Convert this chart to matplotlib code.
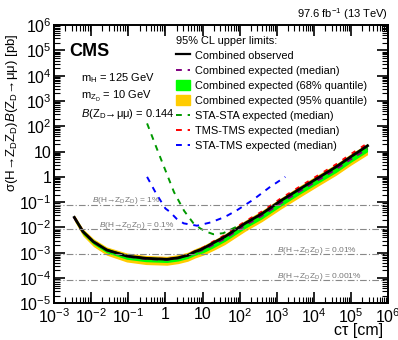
import numpy as np
import matplotlib
matplotlib.use('Agg')
import matplotlib.pyplot as plt
from matplotlib.lines import Line2D
from matplotlib.patches import Patch
from matplotlib.ticker import LogLocator, FuncFormatter, NullFormatter

plt.rcParams['font.family'] = ['Liberation Sans', 'DejaVu Sans']
plt.rcParams['mathtext.fontset'] = 'custom'
plt.rcParams['mathtext.rm'] = 'Liberation Sans'
plt.rcParams['mathtext.it'] = 'Liberation Sans:italic'
plt.rcParams['mathtext.bf'] = 'Liberation Sans:bold'

# combined limits vs c*tau [cm]
ctau = [0.0035, 0.006, 0.0115, 0.026, 0.09, 0.3, 1.1, 2.2, 4.0, 6.3, 10.5, 20, 40,
        140, 400, 1260, 4000, 12600, 40000, 100000, 280000]
obs = [0.025, 6.8e-3, 2.7e-3, 1.29e-3, 7.4e-4, 6.0e-4, 5.5e-4, 6.3e-4, 7.9e-4, 1.1e-3,
       1.48e-3, 2.5e-3, 4.3e-3, 1.45e-2, 3.5e-2, 0.112, 0.32, 0.89, 2.5, 6.3, 17]
exp_med = [0.024, 6.6e-3, 2.65e-3, 1.25e-3, 7.0e-4, 5.6e-4, 5.2e-4, 6.0e-4, 7.5e-4, 1.0e-3,
           1.3e-3, 2.1e-3, 3.6e-3, 1.2e-2, 2.9e-2, 9.0e-2, 0.26, 0.72, 2.0, 5.0, 13]
exp68_lo = [0.020, 5.4e-3, 2.15e-3, 1.0e-3, 5.5e-4, 4.4e-4, 4.1e-4, 4.7e-4, 5.9e-4, 7.9e-4,
            1.0e-3, 1.6e-3, 2.8e-3, 9.2e-3, 2.2e-2, 6.8e-2, 0.20, 0.55, 1.5, 3.8, 9.9]
exp68_hi = [0.028, 7.9e-3, 3.2e-3, 1.5e-3, 8.4e-4, 6.8e-4, 6.3e-4, 7.3e-4, 9.1e-4, 1.25e-3,
            1.65e-3, 2.7e-3, 4.6e-3, 1.55e-2, 3.8e-2, 0.117, 0.34, 0.94, 2.6, 6.5, 17]
exp95_lo = [0.018, 4.6e-3, 1.75e-3, 8.0e-4, 4.3e-4, 3.4e-4, 3.2e-4, 3.7e-4, 4.6e-4, 6.2e-4,
            8.0e-4, 1.25e-3, 2.1e-3, 7.0e-3, 1.7e-2, 5.2e-2, 0.15, 0.42, 1.16, 2.9, 7.5]
exp95_hi = [0.031, 8.8e-3, 3.6e-3, 1.7e-3, 9.8e-4, 7.8e-4, 7.2e-4, 8.4e-4, 1.05e-3, 1.45e-3,
            1.95e-3, 3.2e-3, 5.6e-3, 1.9e-2, 4.7e-2, 0.145, 0.43, 1.2, 3.3, 8.3, 21]
tms_tms = [0.025, 6.9e-3, 2.8e-3, 1.3e-3, 7.4e-4, 6.0e-4, 5.6e-4, 6.5e-4, 8.2e-4, 1.15e-3,
           1.6e-3, 2.8e-3, 4.9e-3, 1.7e-2, 4.2e-2, 0.135, 0.39, 1.1, 3.1, 7.9, 21]

# STA-STA expected
ctau_sta = [0.32, 0.63, 1.0, 1.7, 3.2, 5.6, 8.7, 12.6, 19.5, 36, 83]
sta_sta = [130, 10, 1.8, 0.25, 0.045, 0.015, 9.1e-3, 6.8e-3, 5.4e-3, 5.9e-3, 0.0107]

# STA-TMS expected
ctau_stms = [0.32, 0.56, 1.0, 1.3, 2.0, 3.1, 7.1, 16.6, 40, 83, 234, 630, 1700]
sta_tms = [1.0, 0.22, 0.056, 0.042, 0.022, 0.0145, 0.0117, 0.0158, 0.026, 0.047, 0.126, 0.38, 1.0]

# branching-fraction reference lines
br_levels = [0.08, 0.0085, 0.00085, 0.000085]
br_labels = ['1%', '0.1%', '0.01%', '0.001%']
br_text_x = [0.0105, 0.016, 1000, 1000]

fig = plt.figure(figsize=(3.98, 3.40), dpi=100)
ax = fig.add_axes([0.136, 0.108, 0.839, 0.818])

ax.fill_between(ctau, exp95_lo, exp95_hi, color='#ffcc00', lw=0)
ax.fill_between(ctau, exp68_lo, exp68_hi, color='#00ff00', lw=0)
ax.plot(ctau, exp_med, color='#800080', ls=(0, (3, 3)), lw=1.4)
ax.plot(ctau, tms_tms, color='#ff0000', ls=(0, (2, 3)), lw=1.6)
ax.plot(ctau, obs, color='black', lw=2.0)
ax.plot(ctau_sta, sta_sta, color='#009900', ls=(0, (3, 3)), lw=1.4)
ax.plot(ctau_stms, sta_tms, color='#0000ff', ls=(0, (3, 3)), lw=1.4)

brtxt = r'$\mathit{B}$(H→Z$_{\rm D}$Z$_{\rm D}$) = '
for lvl, lab, xt in zip(br_levels, br_labels, br_text_x):
    ax.axhline(lvl, color='#888888', lw=0.8, ls=(0, (6, 2, 1, 2)))
    ax.text(xt, lvl * 1.22, brtxt + lab, fontsize=6, color='#777777', ha='left', va='baseline')

ax.set_xscale('log')
ax.set_yscale('log')
ax.set_xlim(1e-3, 1e6)
ax.set_ylim(1e-5, 1e6)


def fmt(v, pos):
    e = int(round(np.log10(v)))
    if e == 0:
        return '1'
    if e == 1:
        return '10'
    return r'$10^{%d}$' % e


ax.xaxis.set_major_locator(LogLocator(base=10, numticks=20))
ax.yaxis.set_major_locator(LogLocator(base=10, numticks=20))
ax.xaxis.set_minor_locator(LogLocator(base=10, subs=np.arange(2, 10), numticks=20))
ax.yaxis.set_minor_locator(LogLocator(base=10, subs=np.arange(2, 10), numticks=20))
ax.xaxis.set_major_formatter(FuncFormatter(fmt))
ax.yaxis.set_major_formatter(FuncFormatter(fmt))
ax.xaxis.set_minor_formatter(NullFormatter())
ax.yaxis.set_minor_formatter(NullFormatter())
ax.tick_params(which='both', direction='in', top=True, right=True, labelsize=11.5)
ax.tick_params(which='major', length=8, width=1.2)
ax.tick_params(which='minor', length=4, width=0.8)
ax.tick_params(axis='x', pad=3)
ax.tick_params(axis='y', pad=2)
for s in ax.spines.values():
    s.set_linewidth(1.4)

ax.set_ylabel(r'σ(H→Z$_{\rm D}$Z$_{\rm D}$)$\mathit{B}$(Z$_{\rm D}$→μμ) [pb]',
              fontsize=9.5, va='center')
ax.yaxis.set_label_coords(-0.125, 0.685)
ax.set_xlabel(r'cτ [cm]', fontsize=11.5, ha='right', va='center')
ax.xaxis.set_label_coords(0.985, -0.098)

fig.text(0.975, 0.96, r'97.6 fb$^{-1}$ (13 TeV)', fontsize=8, ha='right', va='center')
ax.text(0.045, 0.905, 'CMS', transform=ax.transAxes, fontsize=13, fontweight='bold', va='center')
ax.text(0.08, 0.81, r'm$_{\rm H}$ = 125 GeV', transform=ax.transAxes, fontsize=8, va='center')
ax.text(0.08, 0.745, r'm$_{\rm Z_D}$ = 10 GeV', transform=ax.transAxes, fontsize=8, va='center')
ax.text(0.08, 0.68, r'$\mathit{B}$(Z$_{\rm D}$→μμ) = 0.144', transform=ax.transAxes,
        fontsize=8, va='center')

handles = [
    Line2D([], [], color='black', lw=1.6),
    Line2D([], [], color='#800080', ls=(0, (3, 3)), lw=1.4),
    Patch(color='#00ff00'),
    Patch(color='#ffcc00'),
    Line2D([], [], color='#009900', ls=(0, (3, 3)), lw=1.4),
    Line2D([], [], color='#ff0000', ls=(0, (3, 3)), lw=1.4),
    Line2D([], [], color='#0000ff', ls=(0, (3, 3)), lw=1.4),
]
labels = ['Combined observed', 'Combined expected (median)', 'Combined expected (68% quantile)',
          'Combined expected (95% quantile)', 'STA-STA expected (median)',
          'TMS-TMS expected (median)', 'STA-TMS expected (median)']
leg = ax.legend(handles, labels, title='95% CL upper limits:', loc='upper left',
                bbox_to_anchor=(0.365, 0.962), frameon=False, fontsize=7.9, title_fontsize=7.9,
                handlelength=1.3, handleheight=1.0, handletextpad=0.45, labelspacing=0.4,
                borderpad=0.0, borderaxespad=0)
leg._legend_box.align = 'left'

fig.savefig('out.png', dpi=100)
